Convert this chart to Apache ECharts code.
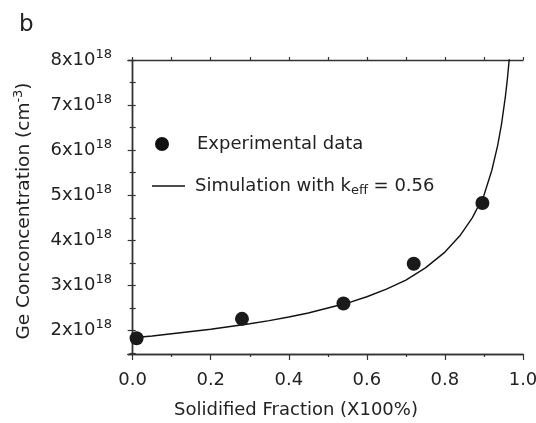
<!DOCTYPE html>
<html>
<head>
<meta charset="utf-8">
<script src="https://cdn.jsdelivr.net/npm/echarts@6/dist/echarts.min.js"></script>
<style>html,body{margin:0;padding:0;background:#fff;}#c{width:536px;height:423px;}</style>
</head>
<body>
<div id="c"></div>
<script>
// Experimental data (x = solidified fraction, y in 1e18 cm^-3)
var expX = [0.01, 0.28, 0.54, 0.72, 0.896];
var expY = [1.83, 2.26, 2.60, 3.48, 4.83];
// Simulation curve (y in 1e18 cm^-3)
var simX = [0, 0.05, 0.1, 0.15, 0.2, 0.25, 0.3, 0.35, 0.4, 0.45, 0.5, 0.55, 0.6, 0.65, 0.7, 0.75, 0.8, 0.84, 0.87, 0.9, 0.92, 0.935, 0.945, 0.955, 0.96, 0.965];
var simY = [1.84, 1.88, 1.93, 1.98, 2.03, 2.09, 2.15, 2.22, 2.30, 2.39, 2.50, 2.61, 2.75, 2.92, 3.12, 3.39, 3.74, 4.12, 4.50, 5.00, 5.55, 6.10, 6.58, 7.20, 7.58, 8.04];
// Tick values
var xMajor = [0, 0.2, 0.4, 0.6, 0.8, 1.0];
var xMinor = [0.1, 0.3, 0.5, 0.7, 0.9];
var xAll = [0, 0.1, 0.2, 0.3, 0.4, 0.5, 0.6, 0.7, 0.8, 0.9, 1.0];
var yMajor = [2, 3, 4, 5, 6, 7, 8];
var yMinor = [1.5, 2.5, 3.5, 4.5, 5.5, 6.5, 7.5];
var yAll = [1.5, 2, 2.5, 3, 3.5, 4, 4.5, 5, 5.5, 6, 6.5, 7, 7.5, 8];

var FONT = 'DejaVu Sans';
var TXT = '#222';
var AX = '#333';
var X_MIN = -0.012, X_MAX = 1.0, Y_MIN = 1.48, Y_MAX = 8;

var chart = echarts.init(document.getElementById('c'), null, {renderer: 'canvas'});
var axisLine = {show: true, lineStyle: {color: AX, width: 1.3}};

function mkX(pos, ticks, len, extra) {
  return Object.assign({
    type: 'value', position: pos, min: X_MIN, max: X_MAX,
    axisLine: axisLine, splitLine: {show: false},
    axisTick: {show: true, customValues: ticks, length: len, inside: false, lineStyle: {color: AX, width: 1.2}},
    axisLabel: {show: false}
  }, extra || {});
}
function mkY(pos, ticks, len, extra) {
  return Object.assign({
    type: 'value', position: pos, min: Y_MIN, max: Y_MAX,
    axisLine: axisLine, splitLine: {show: false},
    axisTick: {show: true, customValues: ticks, length: len, inside: false, lineStyle: {color: AX, width: 1.2}},
    axisLabel: {show: false}
  }, extra || {});
}

var xData = expX.map(function (v, i) { return [v, expY[i]]; });
var sData = simX.map(function (v, i) { return [v, simY[i]]; });

var option = {
  backgroundColor: '#fff',
  animation: false,
  textStyle: {fontFamily: FONT},
  title: {text: 'b', left: 14, top: 9, textStyle: {fontFamily: FONT, fontSize: 23, fontWeight: 'normal', color: TXT}},
  grid: {left: 128, right: 13, top: 60, bottom: 69, containLabel: false, outerBoundsMode: 'none'},
  legend: [
    {
      data: [{name: 'Experimental data', icon: 'circle'}], left: 155, top: 133, padding: 0,
      itemWidth: 14, itemHeight: 14, orient: 'vertical',
      itemStyle: {color: '#111', opacity: 1},
      textStyle: {fontFamily: FONT, fontSize: 18, color: TXT, lineHeight: 22, padding: [0, 0, 0, 23]}
    },
    {
      data: [{name: 'Simulation with keff = 0.56', icon: 'rect'}], left: 152, top: 177, padding: 0,
      itemWidth: 33, itemHeight: 1.4, orient: 'vertical',
      itemStyle: {color: '#111'},
      formatter: function () { return '{a|Simulation with k}{b|eff}{a| = 0.56}'; },
      textStyle: {
        fontFamily: FONT, fontSize: 18, color: TXT, padding: [0, 0, 0, 5],
        rich: {
          a: {fontFamily: FONT, fontSize: 18, color: TXT, lineHeight: 22},
          b: {fontFamily: FONT, fontSize: 13, color: TXT, lineHeight: 13, verticalAlign: 'bottom'}
        }
      }
    }
  ],
  xAxis: [
    mkX('bottom', xMajor, 6, {
      name: 'Solidified Fraction (X100%)', nameLocation: 'middle', nameGap: 47,
      nameTextStyle: {fontFamily: FONT, fontSize: 18, color: TXT, padding: [0, 59, 0, 0]},
      axisLabel: {show: true, customValues: xMajor, margin: 17, fontFamily: FONT, fontSize: 18, color: TXT,
        formatter: function (v) { return v.toFixed(1); }}
    }),
    mkX('bottom', xMinor, 3),
    mkX('top', xAll, 3)
  ],
  yAxis: [
    mkY('left', yMajor, 5, {
      name: '{a|Ge Conconcentration (cm}{s|-3}{a|)}', nameLocation: 'middle', nameGap: 92,
      nameTextStyle: {
        fontFamily: FONT, fontSize: 18, color: TXT, padding: [0, 8, 0, 0],
        rich: {
          a: {fontFamily: FONT, fontSize: 18.5, color: TXT, lineHeight: 24},
          s: {fontFamily: FONT, fontSize: 13, color: TXT, lineHeight: 13, verticalAlign: 'top'}
        }
      },
      axisLabel: {show: true, customValues: yMajor, margin: 16,
        formatter: function (v) { return '{a|' + Math.round(v) + 'x10}{s|18}'; },
        rich: {
          a: {fontFamily: FONT, fontSize: 18, color: TXT, lineHeight: 24},
          s: {fontFamily: FONT, fontSize: 13, color: TXT, lineHeight: 13, verticalAlign: 'top'}
        }
      }
    }),
    mkY('left', yMinor, 3),
    mkY('right', yAll, 3)
  ],
  series: [
    {
      name: 'Simulation with keff = 0.56', type: 'line', xAxisIndex: 0, yAxisIndex: 0,
      data: sData, symbol: 'none', smooth: false, clip: true,
      lineStyle: {color: '#111', width: 1.4}, itemStyle: {color: '#111'}, z: 2
    },
    {
      name: 'Experimental data', type: 'scatter', xAxisIndex: 0, yAxisIndex: 0,
      data: xData, symbol: 'circle', symbolSize: 14,
      itemStyle: {color: '#1a1a1a', opacity: 1}, z: 3
    }
  ]
};
chart.setOption(option);
</script>
</body>
</html>
